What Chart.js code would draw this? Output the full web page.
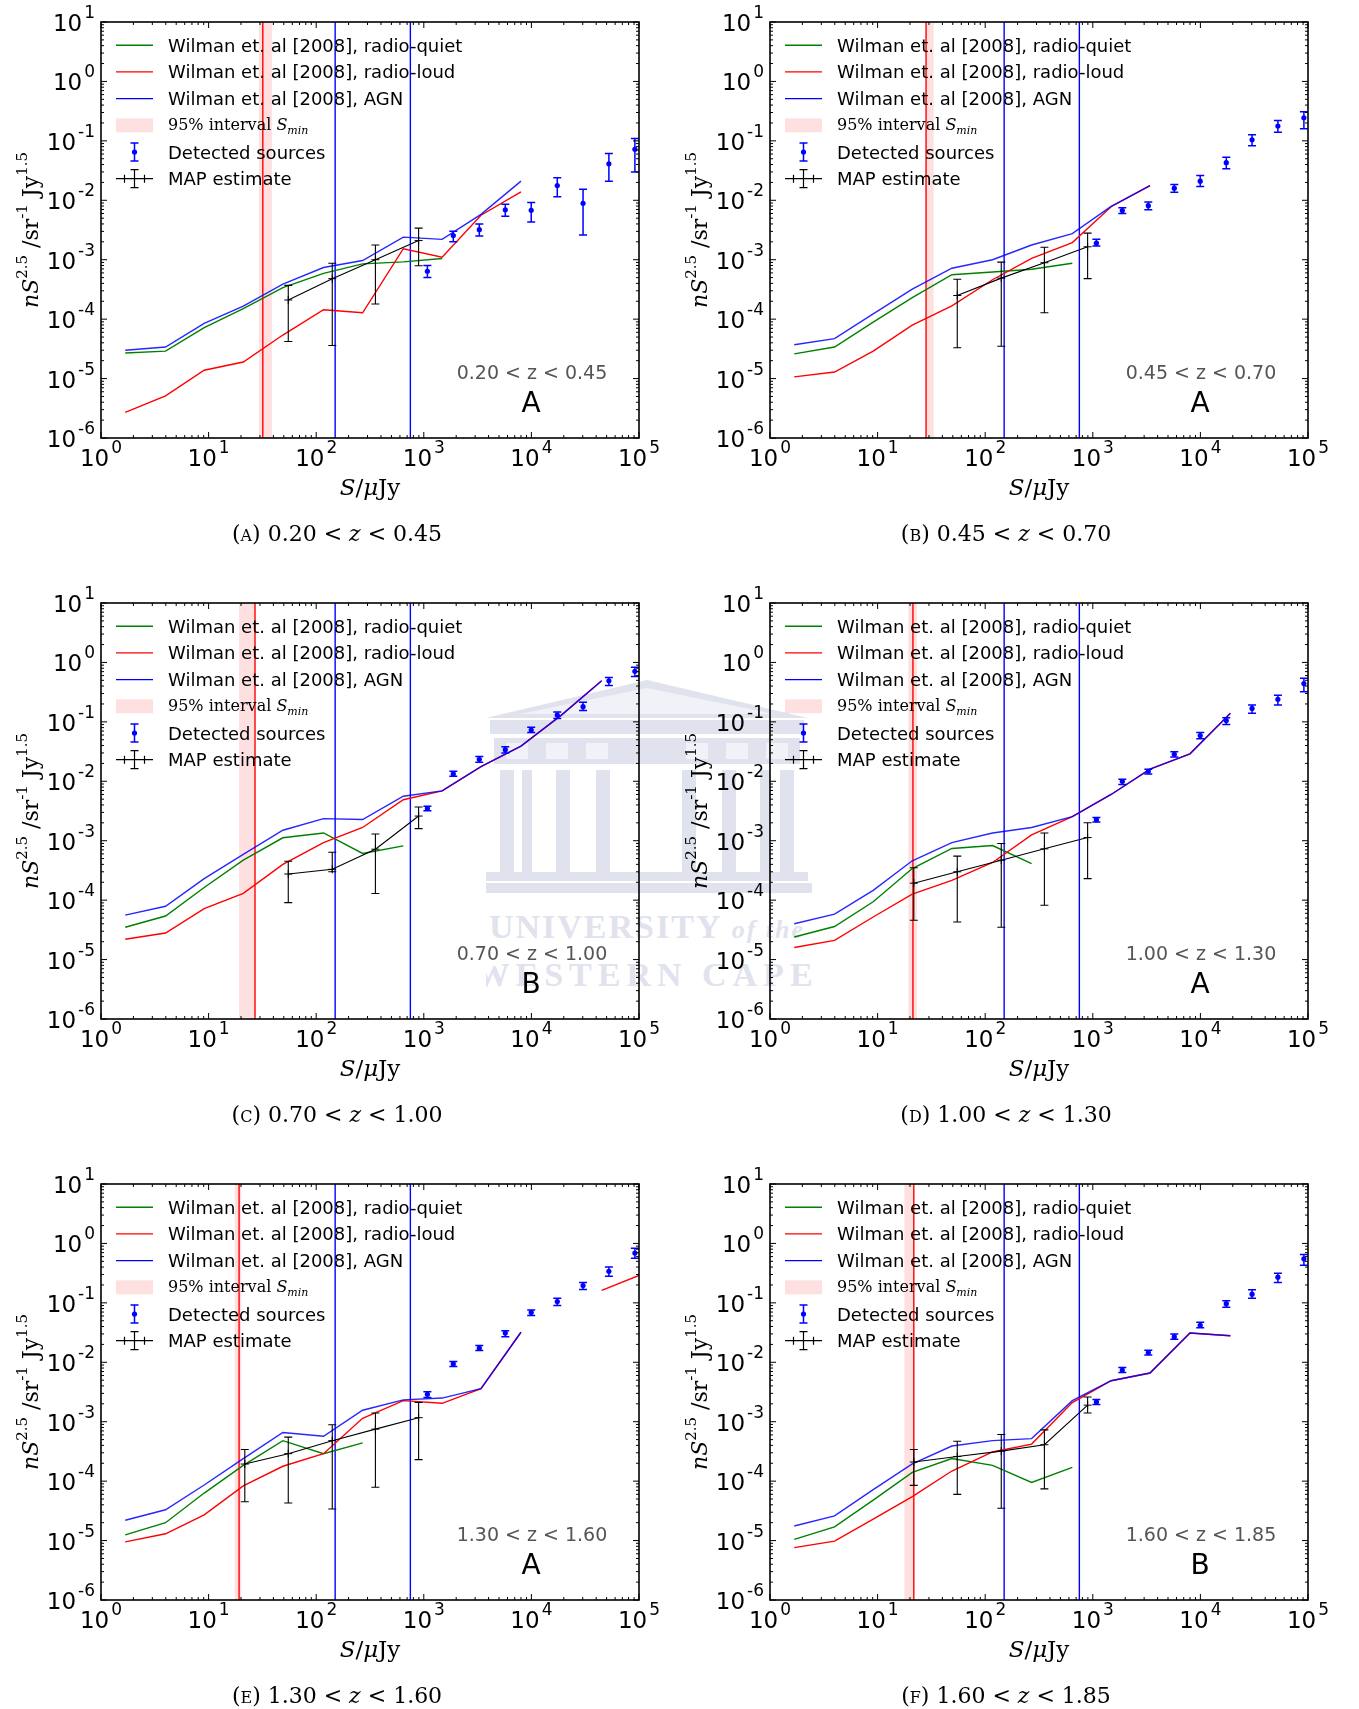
<!DOCTYPE html>
<html>
<head>
<meta charset="utf-8">
<script src="https://cdn.jsdelivr.net/npm/chart.js@4.4.1/dist/chart.umd.min.js"></script>
<style>
  body { margin: 0; background: #fff; width: 1359px; height: 1709px; position: relative; overflow: hidden; }
  .panel { position: absolute; width: 679px; height: 581px; }
  #crest { position: absolute; left: 486px; top: 676px; width: 330px; height: 320px; opacity: 0.5; }
</style>
</head>
<body>
<svg id="crest" viewBox="0 0 330 320" xmlns="http://www.w3.org/2000/svg">
  <g fill="#c3c8dc">
    <polygon points="0,42 161,4 322,42"/>
    <rect x="4" y="44" width="314" height="14"/>
    <rect x="8" y="62" width="306" height="26"/>
    <rect x="14" y="94" width="14" height="102"/><rect x="36" y="94" width="10" height="102"/>
    <rect x="70" y="94" width="14" height="102"/><rect x="110" y="94" width="14" height="102"/>
    <rect x="196" y="94" width="14" height="102"/><rect x="236" y="94" width="14" height="102"/>
    <rect x="274" y="94" width="10" height="102"/><rect x="294" y="94" width="14" height="102"/>
    <rect x="0" y="196" width="322" height="9"/>
    <rect x="-4" y="207" width="330" height="10"/>
    <text x="161" y="262" text-anchor="middle" font-family="Liberation Serif" font-weight="bold" font-size="34" letter-spacing="2">UNIVERSITY <tspan font-style="italic" font-size="26">of the</tspan></text>
    <text x="161" y="310" text-anchor="middle" font-family="Liberation Serif" font-weight="bold" font-size="34" letter-spacing="6">WESTERN CAPE</text>
  </g>
  <g fill="#e4e7f0">
    <polygon points="34,38 161,12 288,38"/>
    <rect x="20" y="67" width="22" height="16"/><rect x="60" y="67" width="22" height="16"/>
    <rect x="100" y="67" width="22" height="16"/><rect x="200" y="67" width="22" height="16"/>
    <rect x="240" y="67" width="22" height="16"/><rect x="280" y="67" width="22" height="16"/>
  </g>
</svg>
<div class="panel" style="left:0;top:0"><canvas id="pA" width="679" height="581"></canvas></div>
<div class="panel" style="left:669px;top:0"><canvas id="pB" width="679" height="581"></canvas></div>
<div class="panel" style="left:0;top:581px"><canvas id="pC" width="679" height="581"></canvas></div>
<div class="panel" style="left:669px;top:581px"><canvas id="pD" width="679" height="581"></canvas></div>
<div class="panel" style="left:0;top:1162px"><canvas id="pE" width="679" height="581"></canvas></div>
<div class="panel" style="left:669px;top:1162px"><canvas id="pF" width="679" height="581"></canvas></div>
<script>
// flux grid of the Wilman et al. model curves (muJy)
const sGrid = [1.68, 3.98, 9.1, 21, 49, 117, 270, 645, 1480, 3400, 8000, 19000, 45000, 100000];
// flux bins of the detected source counts
const detS = [1080, 1880, 3280, 5720, 9960, 17400, 30200, 52500, 91600];
// flux nodes of the MAP estimate
const mapS4 = [55, 141, 355, 895];
const mapS5 = [21.7, 55, 141, 355, 895];
// AGN flux cuts
const agnCuts = [150, 750];
const xPowers = [0, 1, 2, 3, 4, 5];
const yPowers = [-6, -5, -4, -3, -2, -1, 0, 1];

// 0.20 < z < 0.45
const quietA = [2.7e-5, 2.9e-5, 7.2e-5, 1.5e-4, 3.4e-4, 5.9e-4, 8.5e-4, 9.2e-4, 1.05e-3];
const loudA  = [2.7e-6, 5.1e-6, 1.38e-5, 1.9e-5, 5.4e-5, 1.44e-4, 1.28e-4, 1.53e-3, 1.1e-3, 5.6e-3, 1.38e-2];
const agnA   = [3.0e-5, 3.4e-5, 8.5e-5, 1.65e-4, 3.9e-4, 7.4e-4, 9.7e-4, 2.4e-3, 2.2e-3, 5.8e-3, 2.1e-2];
const mapA   = [2.1e-4, 4.8e-4, 1.0e-3, 2.1e-3];
const mapLoA = [4.2e-5, 3.6e-5, 1.8e-4, 7.9e-4];
const mapHiA = [3.7e-4, 8.7e-4, 1.77e-3, 3.4e-3];
const detA   = [6.4e-4, 2.55e-3, 3.2e-3, 6.9e-3, 6.8e-3, 1.77e-2, 8.9e-3, 4.1e-2, 7.2e-2];
const detLoA = [5.0e-4, 2.0e-3, 2.5e-3, 5.4e-3, 4.3e-3, 1.15e-2, 2.6e-3, 2.1e-2, 3.0e-2];
const detHiA = [8.0e-4, 3.0e-3, 4.0e-3, 8.6e-3, 9.2e-3, 2.4e-2, 1.53e-2, 6.1e-2, 1.1e-1];
const sMinA  = [29.4, 31.9, 38.8];

// 0.45 < z < 0.70
const quietB = [2.6e-5, 3.4e-5, 8.9e-5, 2.3e-4, 5.6e-4, 6.2e-4, 6.9e-4, 8.7e-4];
const loudB  = [1.07e-5, 1.29e-5, 2.9e-5, 7.9e-5, 1.67e-4, 4.6e-4, 1.05e-3, 1.94e-3, 7.8e-3, 1.77e-2];
const agnB   = [3.7e-5, 4.7e-5, 1.23e-4, 3.2e-4, 7.2e-4, 1.0e-3, 1.77e-3, 2.75e-3, 7.9e-3, 1.77e-2];
const mapB   = [2.5e-4, 4.9e-4, 8.9e-4, 1.65e-3];
const mapLoB = [3.3e-5, 3.5e-5, 1.28e-4, 4.8e-4];
const mapHiB = [4.7e-4, 9.1e-4, 1.62e-3, 2.8e-3];
const detB   = [1.9e-3, 6.7e-3, 8.1e-3, 1.6e-2, 2.1e-2, 4.3e-2, 0.104, 0.178, 0.245];
const detLoB = [1.7e-3, 6.0e-3, 6.9e-3, 1.37e-2, 1.7e-2, 3.4e-2, 0.083, 0.14, 0.16];
const detHiB = [2.2e-3, 7.5e-3, 9.4e-3, 1.85e-2, 2.6e-2, 5.3e-2, 0.127, 0.22, 0.31];
const sMinB  = [28.2, 28.2, 33.2];

// 0.70 < z < 1.00
const quietC = [3.5e-5, 5.4e-5, 1.63e-4, 4.7e-4, 1.12e-3, 1.35e-3, 6.1e-4, 8.2e-4];
const loudC  = [2.2e-5, 2.8e-5, 7.2e-5, 1.3e-4, 4.0e-4, 9.3e-4, 1.67e-3, 4.9e-3, 6.9e-3, 1.76e-2, 3.9e-2, 0.13, 0.49];
const agnC   = [5.6e-5, 7.9e-5, 2.3e-4, 5.9e-4, 1.5e-3, 2.35e-3, 2.27e-3, 5.6e-3, 6.9e-3, 1.76e-2, 3.9e-2, 0.13, 0.49];
const mapC   = [2.75e-4, 3.3e-4, 7.2e-4, 2.6e-3];
const mapLoC = [9.1e-5, 3.0e-4, 1.29e-4, 1.6e-3];
const mapHiC = [4.5e-4, 6.4e-4, 1.3e-3, 3.7e-3];
const detC   = [3.5e-3, 1.33e-2, 2.35e-2, 3.4e-2, 7.3e-2, 0.13, 0.18, 0.49, 0.71];
const detLoC = [3.2e-3, 1.21e-2, 2.1e-2, 2.98e-2, 6.6e-2, 0.114, 0.155, 0.41, 0.58];
const detHiC = [3.8e-3, 1.47e-2, 2.6e-2, 3.8e-2, 8.1e-2, 0.146, 0.213, 0.56, 0.83];
const sMinC  = [19.2, 27.0, 27.0];

// 1.00 < z < 1.30
const quietD = [2.4e-5, 3.6e-5, 9.4e-5, 3.4e-4, 7.4e-4, 8.3e-4, 4.1e-4];
const loudD  = [1.6e-5, 2.1e-5, 5.2e-5, 1.26e-4, 2.15e-4, 4.3e-4, 1.25e-3, 2.55e-3, 6.0e-3, 1.6e-2, 2.9e-2, 0.14];
const agnD   = [4.0e-5, 5.8e-5, 1.46e-4, 4.6e-4, 9.3e-4, 1.35e-3, 1.67e-3, 2.55e-3, 6.0e-3, 1.6e-2, 2.9e-2, 0.14];
const mapD   = [1.93e-4, 3.0e-4, 4.7e-4, 7.3e-4, 1.13e-3];
const mapLoD = [4.6e-5, 4.3e-5, 3.5e-5, 8.2e-5, 2.3e-4];
const mapHiD = [3.5e-4, 5.5e-4, 9.0e-4, 1.35e-3, 2.0e-3];
const detD   = [2.26e-3, 1.0e-2, 1.47e-2, 2.85e-2, 5.9e-2, 0.105, 0.168, 0.24, 0.44];
const detLoD = [2.06e-3, 8.8e-3, 1.33e-2, 2.56e-2, 5.2e-2, 0.09, 0.14, 0.193, 0.32];
const detHiD = [2.46e-3, 1.08e-2, 1.6e-2, 3.15e-2, 6.6e-2, 0.117, 0.193, 0.28, 0.54];
const sMinD  = [19.3, 21.3, 23.2];

// 1.30 < z < 1.60
const quietE = [1.25e-5, 2.0e-5, 6.3e-5, 1.84e-4, 4.8e-4, 2.9e-4, 4.4e-4];
const loudE  = [9.5e-6, 1.3e-5, 2.7e-5, 8.3e-5, 1.78e-4, 2.9e-4, 1.14e-3, 2.26e-3, 2.04e-3, 3.6e-3, 3.2e-2, null, 0.162, 0.29];
const agnE   = [2.2e-5, 3.3e-5, 8.6e-5, 2.4e-4, 6.6e-4, 5.7e-4, 1.56e-3, 2.33e-3, 2.5e-3, 3.6e-3, 3.2e-2];
const mapE   = [1.94e-4, 2.9e-4, 4.8e-4, 7.5e-4, 1.17e-3];
const mapLoE = [4.5e-5, 4.3e-5, 3.4e-5, 7.9e-5, 2.3e-4];
const mapHiE = [3.4e-4, 5.5e-4, 8.9e-4, 1.4e-3, 2.1e-3];
const detE   = [2.9e-3, 9.4e-3, 1.73e-2, 3.1e-2, 6.9e-2, 0.105, 0.195, 0.34, 0.69];
const detLoE = [2.56e-3, 8.5e-3, 1.58e-2, 2.7e-2, 6.1e-2, 0.09, 0.168, 0.28, 0.565];
const detHiE = [3.2e-3, 1.03e-2, 1.92e-2, 3.4e-2, 7.6e-2, 0.119, 0.22, 0.40, 0.83];
const sMinE  = [17.5, 19.2, 20.1];

// 1.60 < z < 1.85
const quietF = [1.05e-5, 1.7e-5, 4.8e-5, 1.4e-4, 2.4e-4, 1.84e-4, 9.5e-5, 1.7e-4];
const loudF  = [7.6e-6, 9.8e-6, 2.3e-5, 5.5e-5, 1.48e-4, 3.1e-4, 4.2e-4, 2.1e-3, 4.9e-3, 6.6e-3, 3.1e-2, 2.8e-2];
const agnF   = [1.76e-5, 2.6e-5, 7.2e-5, 1.95e-4, 3.9e-4, 4.8e-4, 5.2e-4, 2.26e-3, 4.9e-3, 6.6e-3, 3.1e-2, 2.8e-2];
const mapF   = [2.1e-4, 2.6e-4, 3.2e-4, 4.1e-4, 1.9e-3];
const mapLoF = [8.5e-5, 6.0e-5, 3.5e-5, 7.4e-5, 1.4e-3];
const mapHiF = [3.4e-4, 4.7e-4, 6.1e-4, 7.3e-4, 2.6e-3];
const detF   = [2.15e-3, 7.4e-3, 1.46e-2, 2.7e-2, 4.2e-2, 9.7e-2, 0.14, 0.27, 0.55];
const detLoF = [1.95e-3, 6.7e-3, 1.32e-2, 2.43e-2, 3.8e-2, 0.084, 0.12, 0.22, 0.43];
const detHiF = [2.36e-3, 8.2e-3, 1.6e-2, 3.0e-2, 4.7e-2, 0.109, 0.166, 0.316, 0.65];
const sMinF  = [17.7, 21.7, 21.7];

const panels = [
  { id: 'pA', tag: 'A', zLo: '0.20', zHi: '0.45', model: 'A', quiet: quietA, loud: loudA, agn: agnA,
    mapS: mapS4, map: mapA, mapLo: mapLoA, mapHi: mapHiA, det: detA, detLo: detLoA, detHi: detHiA, smin: sMinA },
  { id: 'pB', tag: 'B', zLo: '0.45', zHi: '0.70', model: 'A', quiet: quietB, loud: loudB, agn: agnB,
    mapS: mapS4, map: mapB, mapLo: mapLoB, mapHi: mapHiB, det: detB, detLo: detLoB, detHi: detHiB, smin: sMinB },
  { id: 'pC', tag: 'C', zLo: '0.70', zHi: '1.00', model: 'B', quiet: quietC, loud: loudC, agn: agnC,
    mapS: mapS4, map: mapC, mapLo: mapLoC, mapHi: mapHiC, det: detC, detLo: detLoC, detHi: detHiC, smin: sMinC },
  { id: 'pD', tag: 'D', zLo: '1.00', zHi: '1.30', model: 'A', quiet: quietD, loud: loudD, agn: agnD,
    mapS: mapS5, map: mapD, mapLo: mapLoD, mapHi: mapHiD, det: detD, detLo: detLoD, detHi: detHiD, smin: sMinD },
  { id: 'pE', tag: 'E', zLo: '1.30', zHi: '1.60', model: 'A', quiet: quietE, loud: loudE, agn: agnE,
    mapS: mapS5, map: mapE, mapLo: mapLoE, mapHi: mapHiE, det: detE, detLo: detLoE, detHi: detHiE, smin: sMinE },
  { id: 'pF', tag: 'F', zLo: '1.60', zHi: '1.85', model: 'B', quiet: quietF, loud: loudF, agn: agnF,
    mapS: mapS5, map: mapF, mapLo: mapLoF, mapHi: mapHiF, det: detF, detLo: detLoF, detHi: detHiF, smin: sMinF }
];

const SANS = '"DejaVu Sans"';
const SERIF = '"DejaVu Serif"';
const GREEN = '#008000', RED = '#ff0000', BLUE = '#0000ff';
const BAND = 'rgba(255,0,0,0.12)';

const pts = (xs, ys) => ys.map((v, i) => ({ x: xs[i], y: v }));

function vline(ctx, px, a, color) {
  ctx.strokeStyle = color; ctx.lineWidth = 1.4;
  ctx.beginPath(); ctx.moveTo(px, a.top); ctx.lineTo(px, a.bottom); ctx.stroke();
}

function errBars(ctx, x, y, xs, lo, hi, color, cap, lw) {
  ctx.strokeStyle = color; ctx.lineWidth = lw;
  xs.forEach((s, i) => {
    const px = x.getPixelForValue(s);
    const top = y.getPixelForValue(hi[i]), bot = y.getPixelForValue(lo[i]);
    ctx.beginPath();
    ctx.moveTo(px, top); ctx.lineTo(px, bot);
    ctx.moveTo(px - cap, top); ctx.lineTo(px + cap, top);
    ctx.moveTo(px - cap, bot); ctx.lineTo(px + cap, bot);
    ctx.stroke();
  });
}

// text made of runs (italic, superscript, subscript...)
function runsWidth(ctx, runs) {
  return runs.reduce((w, r) => { ctx.font = r.f; return w + ctx.measureText(r.t).width + (r.gap || 0); }, 0);
}
function drawRuns(ctx, runs, x0, base) {
  let x = x0;
  runs.forEach(r => {
    ctx.font = r.f;
    x += r.gap || 0;
    ctx.fillText(r.t, x, base + (r.dy || 0));
    x += ctx.measureText(r.t).width;
  });
}

function drawLegend(ctx, a) {
  const x0 = a.left + 15, x1 = a.left + 52, xc = (x0 + x1) / 2, tx = a.left + 67;
  const row = k => a.top + 23.2 + 26.7 * k;
  const lines = [[GREEN, 'Wilman et. al [2008], radio-quiet'],
                 [RED, 'Wilman et. al [2008], radio-loud'],
                 [BLUE, 'Wilman et. al [2008], AGN']];
  ctx.textAlign = 'left'; ctx.textBaseline = 'alphabetic';
  lines.forEach(([c, label], k) => {
    const yy = row(k);
    ctx.strokeStyle = c; ctx.lineWidth = 1.4;
    ctx.beginPath(); ctx.moveTo(x0, yy); ctx.lineTo(x1, yy); ctx.stroke();
    ctx.fillStyle = '#000'; ctx.font = '18px ' + SANS;
    ctx.fillText(label, tx, yy + 6.5);
  });
  // S_min interval
  let yy = row(3);
  ctx.fillStyle = BAND; ctx.fillRect(x0, yy - 7, x1 - x0, 14);
  ctx.fillStyle = '#000';
  drawRuns(ctx, [{ t: '95% interval ', f: '16px ' + SERIF },
                 { t: 'S', f: 'italic 16px ' + SERIF },
                 { t: 'min', f: 'italic 11px ' + SERIF, dy: 4 }], tx, yy + 5);
  // detected sources
  yy = row(4);
  ctx.strokeStyle = BLUE; ctx.lineWidth = 1.5;
  ctx.beginPath();
  ctx.moveTo(xc, yy - 9); ctx.lineTo(xc, yy + 9);
  ctx.moveTo(xc - 4, yy - 9); ctx.lineTo(xc + 4, yy - 9);
  ctx.moveTo(xc - 4, yy + 9); ctx.lineTo(xc + 4, yy + 9);
  ctx.stroke();
  ctx.fillStyle = BLUE; ctx.beginPath(); ctx.arc(xc, yy, 2.6, 0, 2 * Math.PI); ctx.fill();
  ctx.fillStyle = '#000'; ctx.font = '18px ' + SANS;
  ctx.fillText('Detected sources', tx, yy + 6.5);
  // MAP estimate
  yy = row(5);
  ctx.strokeStyle = '#000'; ctx.lineWidth = 1.2;
  ctx.beginPath();
  ctx.moveTo(x0, yy); ctx.lineTo(x1, yy);
  ctx.moveTo(xc, yy - 9); ctx.lineTo(xc, yy + 9);
  ctx.moveTo(xc - 4, yy - 9); ctx.lineTo(xc + 4, yy - 9);
  ctx.moveTo(xc - 4, yy + 9); ctx.lineTo(xc + 4, yy + 9);
  ctx.moveTo(xc - 10, yy - 4); ctx.lineTo(xc - 10, yy + 4);
  ctx.moveTo(xc + 10, yy - 4); ctx.lineTo(xc + 10, yy + 4);
  ctx.stroke();
  ctx.fillStyle = '#000'; ctx.font = '18px ' + SANS;
  ctx.fillText('MAP estimate', tx, yy + 6.5);
}

const deco = {
  id: 'deco',
  beforeDatasetsDraw(chart, args, o) {
    const { ctx, chartArea: a, scales: { x, y } } = chart;
    ctx.save();
    ctx.beginPath(); ctx.rect(a.left, a.top, a.right - a.left, a.bottom - a.top); ctx.clip();
    const b0 = x.getPixelForValue(o.smin[0]), b1 = x.getPixelForValue(o.smin[2]);
    ctx.fillStyle = BAND;
    ctx.fillRect(b0, a.top, b1 - b0, a.bottom - a.top);
    vline(ctx, x.getPixelForValue(o.smin[1]), a, RED);
    agnCuts.forEach(s => vline(ctx, x.getPixelForValue(s), a, BLUE));
    ctx.restore();
  },
  afterDatasetsDraw(chart, args, o) {
    const { ctx, chartArea: a, scales: { x, y } } = chart;
    ctx.save();
    errBars(ctx, x, y, o.mapS, o.mapLo, o.mapHi, '#000', 4, 1.1);
    errBars(ctx, x, y, detS, o.detLo, o.detHi, BLUE, 4, 1.5);
    drawLegend(ctx, a);
    // redshift bin and model
    ctx.textAlign = 'center'; ctx.textBaseline = 'alphabetic';
    ctx.fillStyle = '#555'; ctx.font = '19px ' + SANS;
    ctx.fillText(o.zLo + ' < z < ' + o.zHi, a.left + 431, a.top + 357);
    ctx.fillStyle = '#000'; ctx.font = '28px ' + SANS;
    ctx.fillText(o.model, a.left + 430, a.top + 390);
    ctx.restore();
  },
  afterDraw(chart, args, o) {
    const { ctx, chartArea: a, scales: { x, y } } = chart;
    ctx.save();
    // inward ticks on all four sides
    ctx.strokeStyle = '#000'; ctx.lineWidth = 1;
    ctx.beginPath();
    xPowers.forEach(p => {
      const subs = p < 5 ? [1, 2, 3, 4, 5, 6, 7, 8, 9] : [1];
      subs.forEach(k => {
        const px = x.getPixelForValue(k * Math.pow(10, p));
        const len = k === 1 ? 6 : 3;
        ctx.moveTo(px, a.bottom); ctx.lineTo(px, a.bottom - len);
        ctx.moveTo(px, a.top); ctx.lineTo(px, a.top + len);
      });
    });
    yPowers.forEach(p => {
      const subs = p < 1 ? [1, 2, 3, 4, 5, 6, 7, 8, 9] : [1];
      subs.forEach(k => {
        const py = y.getPixelForValue(k * Math.pow(10, p));
        const len = k === 1 ? 6 : 3;
        ctx.moveTo(a.left, py); ctx.lineTo(a.left + len, py);
        ctx.moveTo(a.right, py); ctx.lineTo(a.right - len, py);
      });
    });
    ctx.stroke();
    ctx.lineWidth = 1.6;
    ctx.strokeRect(a.left, a.top, a.right - a.left, a.bottom - a.top);

    // tick labels 10^n
    ctx.fillStyle = '#000'; ctx.textAlign = 'left'; ctx.textBaseline = 'alphabetic';
    const big = '23px ' + SANS, sup = '17px ' + SANS;
    xPowers.forEach(p => {
      const runs = [{ t: '10', f: big }, { t: String(p), f: sup, dy: -13, gap: 2 }];
      const w = runsWidth(ctx, runs);
      drawRuns(ctx, runs, x.getPixelForValue(Math.pow(10, p)) - w / 2, a.bottom + 28);
    });
    yPowers.forEach(p => {
      const runs = [{ t: '10', f: big }, { t: String(p), f: sup, dy: -13, gap: 2 }];
      const w = runsWidth(ctx, runs);
      drawRuns(ctx, runs, a.left - 6 - w, y.getPixelForValue(Math.pow(10, p)) + 9);
    });

    // axis titles
    const xr = [{ t: 'S', f: 'italic 23px ' + SERIF }, { t: '/', f: '23px ' + SERIF },
                { t: 'μ', f: 'italic 23px ' + SERIF }, { t: 'Jy', f: '23px ' + SERIF }];
    drawRuns(ctx, xr, (a.left + a.right) / 2 - runsWidth(ctx, xr) / 2, a.bottom + 57);
    const yr = [{ t: 'n', f: 'italic 22px ' + SERIF }, { t: 'S', f: 'italic 22px ' + SERIF },
                { t: '2.5', f: '15px ' + SERIF, dy: -11 }, { t: ' /', f: '22px ' + SERIF },
                { t: 'sr', f: '22px ' + SERIF }, { t: '-1', f: '15px ' + SERIF, dy: -11 },
                { t: ' Jy', f: '22px ' + SERIF }, { t: '1.5', f: '15px ' + SERIF, dy: -11 }];
    ctx.save();
    ctx.translate(a.left - 63, (a.top + a.bottom) / 2);
    ctx.rotate(-Math.PI / 2);
    drawRuns(ctx, yr, -runsWidth(ctx, yr) / 2, 0);
    ctx.restore();

    // sub-figure caption
    const cr = [{ t: '(', f: '22px ' + SERIF }, { t: o.tag, f: '16px ' + SERIF }, { t: ')', f: '22px ' + SERIF },
                { t: ' ' + o.zLo + ' < ', f: '22px ' + SERIF }, { t: 'z', f: 'italic 22px ' + SERIF },
                { t: ' < ' + o.zHi, f: '22px ' + SERIF }];
    drawRuns(ctx, cr, a.left + 236 - runsWidth(ctx, cr) / 2, a.bottom + 103);
    ctx.restore();
  }
};

panels.forEach(p => {
  new Chart(document.getElementById(p.id), {
    type: 'line',
    data: {
      datasets: [
        { data: pts(detS, p.det), showLine: false, pointRadius: 2.6, pointBackgroundColor: BLUE,
          pointBorderColor: BLUE, pointBorderWidth: 0, order: 0 },
        { data: pts(p.mapS, p.map), borderColor: '#000', borderWidth: 1.1, pointStyle: 'cross',
          pointRadius: 4, pointBorderColor: '#000', pointBorderWidth: 1, order: 1 },
        { data: pts(sGrid, p.agn), borderColor: 'rgba(0,0,255,0.85)', borderWidth: 1.4, pointRadius: 0, order: 2 },
        { data: pts(sGrid, p.loud), borderColor: RED, borderWidth: 1.4, pointRadius: 0, order: 3 },
        { data: pts(sGrid, p.quiet), borderColor: GREEN, borderWidth: 1.4, pointRadius: 0, order: 4 }
      ]
    },
    options: {
      responsive: false, animation: false, events: [],
      spanGaps: false,
      layout: { padding: { left: 101, right: 40, top: 22, bottom: 143 } },
      plugins: { legend: { display: false }, tooltip: { enabled: false }, deco: p },
      scales: {
        x: { type: 'logarithmic', min: 1, max: 1e5, display: false },
        y: { type: 'logarithmic', min: 1e-6, max: 10, display: false }
      }
    },
    plugins: [deco]
  });
});
</script>
</body>
</html>
